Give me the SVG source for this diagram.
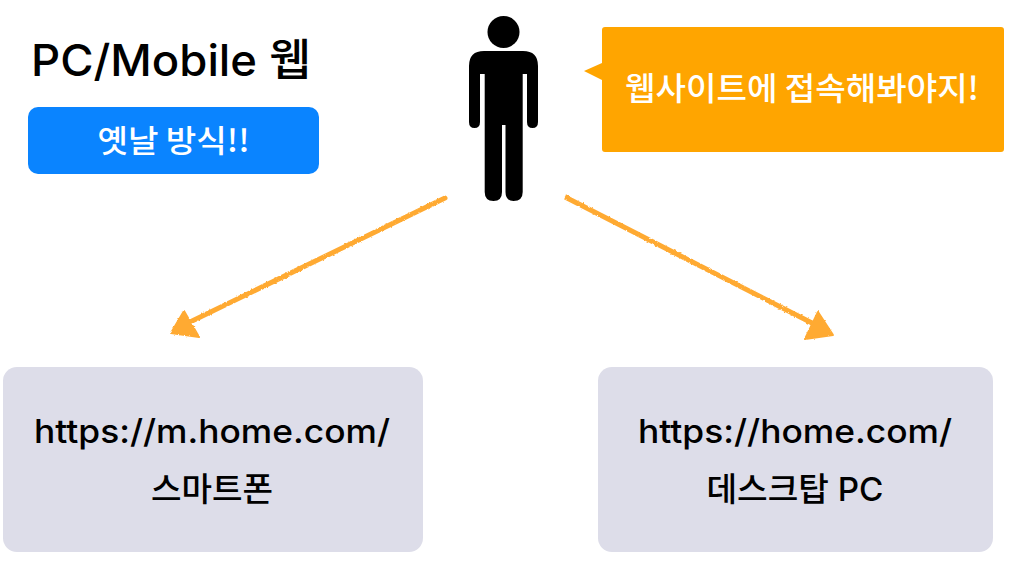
<svg xmlns="http://www.w3.org/2000/svg" width="1031" height="563" viewBox="0 0 1031 563">
<defs><filter id="rough" x="-10%" y="-10%" width="120%" height="120%"><feTurbulence type="fractalNoise" baseFrequency="0.35" numOctaves="2" seed="4"/><feDisplacementMap in="SourceGraphic" scale="2.500" xChannelSelector="R" yChannelSelector="G"/></filter></defs>
<style>
text{font-family:"Inter","Noto Sans CJK KR",sans-serif;text-anchor:middle}
.url{font-size:33px;font-weight:500;fill:#000}
.ko{font-family:"Noto Sans CJK KR",sans-serif}
.w{fill:#fff;font-weight:700;font-family:"Noto Sans CJK KR",sans-serif}
.box{fill:#dddde9}
.conn{stroke:#ffaa33;stroke-width:5;stroke-linecap:round;fill:none}
.head{fill:#ffaa33;stroke:#ffaa33;stroke-width:2;stroke-linejoin:round}
</style>
<rect width="1031" height="563" fill="#fff"/>
<g id="title"><text x="171" y="76" style="font-size:44px;font-weight:500" textLength="280" lengthAdjust="spacingAndGlyphs">PC/Mobile 웹</text></g>
<g id="badge"><rect x="28" y="107" width="291" height="67" rx="10" fill="#0a84ff"/><text class="w" x="173.500" y="152" style="font-size:31px;font-weight:500" textLength="152" lengthAdjust="spacingAndGlyphs">옛날 방식!!</text></g>
<g id="person" fill="#000">
<circle cx="503.500" cy="32" r="16"/>
<path d="M484 51H523Q538 51 538 66V122Q538 128 532.500 128Q527 128 527 122V74H522.700V192Q522.700 201 513.500 201Q505.500 201 505.500 192V125H502V192Q502 201 493.500 201Q484.700 201 484.700 192V74H480V122Q480 128 474.500 128Q469 128 469 122V66Q469 51 484 51Z"/>
</g>
<g id="callout"><path d="M605 27H1001Q1004 27 1004 30V149Q1004 152 1001 152H605Q602 152 602 149V80L584 71L602 63V30Q602 27 605 27Z" fill="#ffa500"/><text class="w" x="802" y="100" style="font-size:32px;font-weight:500" textLength="354" lengthAdjust="spacingAndGlyphs">웹사이트에 접속해봐야지!</text></g>
<g id="connectors" filter="url(#rough)">
<line class="conn" x1="445" y1="198" x2="190" y2="322"/>
<path class="head" d="M184 311L171 333L199 337Z"/>
<line class="conn" x1="567" y1="198" x2="812" y2="323"/>
<path class="head" d="M818 312L833 335L805 339Z"/>
</g>
<g id="mobile"><rect class="box" x="3" y="367" width="420" height="185" rx="14"/><text class="url" x="212" y="443" textLength="356" lengthAdjust="spacingAndGlyphs">https://m.home.com/</text><text class="url ko" x="212" y="501" textLength="122" lengthAdjust="spacingAndGlyphs">스마트폰</text></g>
<g id="desktop"><rect class="box" x="598" y="367" width="395" height="185" rx="14"/><text class="url" x="795" y="443" textLength="314" lengthAdjust="spacingAndGlyphs">https://home.com/</text><text class="url" x="795" y="501" textLength="177" lengthAdjust="spacingAndGlyphs">데스크탑 PC</text></g>
</svg>
